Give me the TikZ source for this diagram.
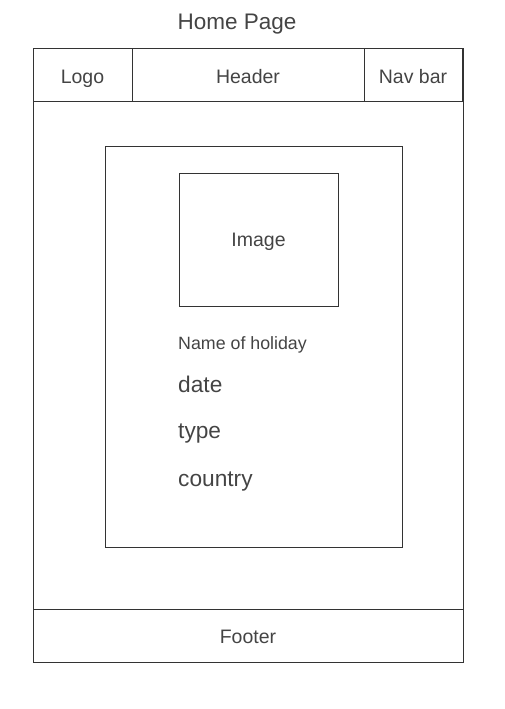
\documentclass[tikz,border=0pt]{standalone}
\usepackage{fontspec}
\setmainfont{Liberation Sans}
\definecolor{txt}{HTML}{444444}
\definecolor{ln}{HTML}{333333}
\begin{document}
\begin{tikzpicture}[x=1pt,y=-1pt,
  box/.style={draw=ln,line width=1pt,inner sep=0pt,outer sep=0pt,anchor=north west},
  lbl/.style={text=txt,inner sep=0pt,anchor=base,font=\fontsize{19.5}{20}\selectfont},
  big/.style={text=txt,inner sep=0pt,anchor=base west,font=\fontsize{22.7}{24}\selectfont},
]
\useasboundingbox (0,0) rectangle (504,709);
\node[text=txt,inner sep=0pt,anchor=base,font=\fontsize{22.5}{24}\selectfont] (title) at (237,30) {Home Page};
\node[box,minimum width=430pt,minimum height=613pt] (page) at (33,49) {};
\node[box,minimum width=99pt,minimum height=52pt] (logo) at (33,49) {};
\node[box,minimum width=232pt,minimum height=52pt] (header) at (132,49) {};
\node[box,minimum width=98pt,minimum height=52pt] (nav) at (364,49) {};
\node[box,minimum width=430pt,minimum height=53pt] (footer) at (33,609) {};
\node[box,minimum width=297pt,minimum height=401pt] (card) at (105,146) {};
\node[box,minimum width=159pt,minimum height=133pt] (image) at (179,173) {};
\node[lbl] (logot) at (82.5,83) {Logo};
\node[lbl] (headert) at (248,83) {Header};
\node[lbl] (navt) at (413,83) {Nav bar};
\node[lbl] (footert) at (248,643) {Footer};
\node[lbl] (imaget) at (258.5,246) {Image};
\node[text=txt,inner sep=0pt,anchor=base west,font=\fontsize{17.8}{19}\selectfont] (name) at (178,349) {Name of holiday};
\node[big] (date) at (178,392.5) {date};
\node[big] (type) at (178,438) {type};
\node[big] (country) at (178,486.5) {country};
\end{tikzpicture}
\end{document}
